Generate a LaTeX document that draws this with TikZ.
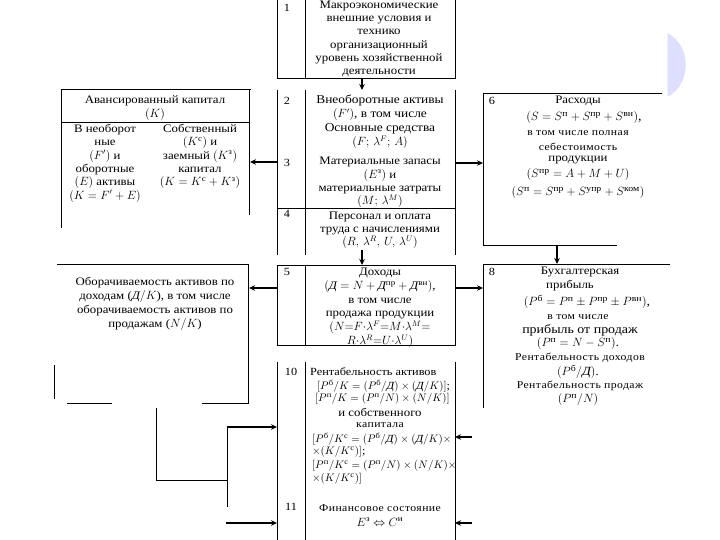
\documentclass[tikz,border=0pt]{standalone}
\usepackage{fontspec}
\usepackage{amsmath}
\setmainfont{Liberation Serif}[FakeStretch=1.12]
\usetikzlibrary{arrows.meta}
\newcommand{\tx}[1]{\text{#1}}
\newcommand{\Dd}{\text{\itshape Д}}
\begin{document}
\begin{tikzpicture}[x=1bp,y=-1bp,
  ln/.style={line width=0.8bp},
  arr/.style={line width=1.4bp,-{Stealth[length=6bp,width=5.5bp]}},
  tb/.style={inner sep=0pt,align=center,font=\fontsize{11.5}{13.4}\selectfont},
  sm/.style={inner sep=0pt,align=center,font=\fontsize{10.5}{13}\selectfont\addfontfeature{LetterSpace=4}},
  fm/.style={inner sep=0pt,align=center,font=\fontsize{10.9}{13}\selectfont},
  num/.style={inner sep=0pt,font=\fontsize{11}{13}\selectfont}]
\useasboundingbox (0,0) rectangle (720,540);
\fill[white] (0,0) rectangle (720,540);
% slide decoration
\fill[blue!13!white] (667,33) .. controls (692,45) and (692,85) .. (667,97) -- cycle;
\draw[blue!5!white,line width=1bp] (667,33) -- (667,97);

% ---- centre column frames
\draw[ln] (277,0) -- (277,78) -- (455,78) -- (455,0);
\draw[ln] (305,0) -- (305,78);
\draw[ln] (277,90) -- (277,255);
\draw[ln] (305,90) -- (305,255);
\draw[ln] (455,90) -- (455,255);
\draw[ln] (277,208) -- (455,208);
\draw[ln] (277,265) rectangle (455,345);
\draw[ln] (305,265) -- (305,345);
\draw[ln] (277,362) -- (277,540);
\draw[ln] (305,362) -- (305,540);
\draw[ln] (455,362) -- (455,540);

% ---- left frames
\draw[ln] (61,228) -- (61,89) -- (251,89);
\draw[ln] (249,89) -- (249,215);
\draw[ln] (61,122) -- (249,122);
\draw[ln] (57,264) -- (248,264) -- (248,403) -- (202,403);
\draw[ln] (67,403) -- (112,403);
\draw[ln] (54,365) -- (54,399);
\draw[ln] (156,408) -- (156,480) -- (227,480);
\draw[ln] (227,427) -- (227,507);

% ---- right frames
\draw[ln] (662,93) -- (483,93) -- (483,245) -- (617,245);
\draw[ln] (670,264) -- (483,264) -- (483,408);

% ---- connector end points
\coordinate (b1s) at (362,78);   \coordinate (b2n) at (362,90);
\coordinate (b3w) at (277,162);  \coordinate (lk) at (250,162);
\coordinate (b3e) at (455,163);  \coordinate (b6w) at (483,163);
\coordinate (b6s) at (557,245);  \coordinate (b8n) at (557,264);
\coordinate (b4s) at (362,250);  \coordinate (b5n) at (362,265);
\coordinate (b5w) at (277,288);  \coordinate (lo) at (249,288);
\coordinate (b5e) at (455,288);  \coordinate (b8w) at (483,288);
\coordinate (la) at (227,427);   \coordinate (b10w) at (277,427);
\coordinate (lb) at (226,523);   \coordinate (b11w) at (277,523);
\coordinate (ra) at (472,437);   \coordinate (b10e) at (455,437);
\coordinate (rb) at (472,523);   \coordinate (b11e) at (455,523);

\draw[arr] (b1s) -- (b2n);
\draw[arr] (b3w) -- (lk);
\draw[arr] (b3e) -- (b6w);
\draw[arr] (b6s) -- (b8n);
\draw[arr] (b4s) -- (b5n);
\draw[arr] (b5w) -- (lo);
\draw[arr] (b5e) -- (b8w);
\draw[arr] (la) -- (b10w);
\draw[arr] (lb) -- (b11w);
\draw[arr] (ra) -- (b10e);
\draw[arr] (rb) -- (b11e);

% ---- numbers
\node[num] (n1) at (287,8) {1};
\node[num] (n2) at (287,101) {2};
\node[num] (n3) at (287,163) {3};
\node[num] (n4) at (287,214) {4};
\node[num] (n5) at (287,272) {5};
\node[num] (n10) at (291,372) {10};
\node[num] (n11) at (291,507) {11};
\node[num] (n6) at (492,101) {6};
\node[num] (n8) at (492,272) {8};

% ---- box 1
\node[tb,anchor=north,font=\fontsize{11.5}{13.2}\selectfont] (t1) at (379,1) {Макроэкономические\\внешние условия и\\технико\\организационный\\уровень хозяйственной\\деятельности};
% ---- box 2,3,4
\node[tb,anchor=north,font=\fontsize{12}{14}\selectfont] (t2) at (380,95) {Внеоборотные активы\\$(F')$, в том числе\\Основные средства\\$(F;\,\lambda^F;\,A)$};
\node[tb,anchor=north] (t3) at (380,157) {Материальные запасы\\$(E^{\tx{з}})$ и\\материальные затраты\\$(M;\,\lambda^M)$};
\node[tb,anchor=north,font=\fontsize{11.5}{13}\selectfont] (t4) at (380,212) {Персонал и оплата\\труда с начислениями\\$(R,\,\lambda^R,\,U,\,\lambda^U)$};
% ---- box 5
\node[tb,anchor=north,font=\fontsize{11.5}{13.8}\selectfont] (t5) at (380,268) {Доходы\\$(\Dd = N + \Dd^{\tx{пр}} + \Dd^{\tx{вн}})$,\\в том числе\\продажа продукции\\$(N{=}F{\cdot}\lambda^F{=}M{\cdot}\lambda^M{=}$\\$R{\cdot}\lambda^R{=}U{\cdot}\lambda^U)$};
% ---- box 10
\node[tb,anchor=west,font=\fontsize{11}{13}\selectfont] (t10a) at (310,372) {Рентабельность активов};
\node[fm,anchor=west] (t10b) at (317,386) {$[P^{\tx{б}}/K=(P^{\tx{б}}/\Dd)\times(\Dd/K)]$;};
\node[fm,anchor=west] (t10c) at (315,399) {$[P^{\tx{п}}/K=(P^{\tx{п}}/N)\times(N/K)]$};
\node[tb] (t10d) at (380,412) {и собственного};
\node[sm] (t10e) at (380,425) {капитала};
\node[fm,anchor=west] (t10f) at (312,439) {$[P^{\tx{б}}/K^{\tx{с}}=(P^{\tx{б}}/\Dd)\times(\Dd/K)\times$};
\node[fm,anchor=west] (t10g) at (312,452) {$\times(K/K^{\tx{с}})]$;};
\node[fm,anchor=west] (t10h) at (312,466) {$[P^{\tx{п}}/K^{\tx{с}}=(P^{\tx{п}}/N)\times(N/K)\times$};
\node[fm,anchor=west] (t10i) at (312,479) {$\times(K/K^{\tx{с}})]$};
% ---- box 11
\node[sm] (t11a) at (380,508) {Финансовое состояние};
\node[tb] (t11b) at (380,522) {$E^{\tx{з}}\Leftrightarrow C^{\tx{и}}$};

% ---- left box 1
\node[tb] (l1a) at (155,101) {Авансированный капитал};
\node[tb] (l1b) at (155,115) {$(K)$};
\node[tb,anchor=north] (l1c) at (105,124) {В необорот\\ные\\$(F')$ и\\оборотные\\$(E)$ активы\\$(K = F' + E)$};
\node[tb,anchor=north] (l1d) at (200,124) {Собственный\\$(K^{\tx{с}})$ и\\заемный $(K^{\tx{з}})$\\капитал\\$(K = K^{\tx{с}} + K^{\tx{з}})$};
% ---- left box 2
\node[tb,anchor=north,font=\fontsize{11.5}{14}\selectfont] (l2) at (155,277) {Оборачиваемость активов по\\доходам ($\Dd/K$), в том числе\\оборачиваемость активов по\\продажам ($N/K$)};

% ---- box 6
\node[tb] (r6a) at (578,101) {Расходы};
\node[tb,font=\fontsize{12.5}{14}\selectfont] (r6b) at (584,118) {$(S = S^{\tx{п}} + S^{\tx{пр}} + S^{\tx{вн}})$,};
\node[sm] (r6c) at (578,133) {в том числе полная};
\node[sm] (r6d) at (578,147) {себестоимость};
\node[tb] (r6e) at (578,160) {продукции};
\node[tb,font=\fontsize{12.5}{14}\selectfont] (r6f) at (578,175) {$(S^{\tx{пр}} = A + M + U)$};
\node[tb,font=\fontsize{12.5}{14}\selectfont] (r6g) at (578,193) {$(S^{\tx{п}} = S^{\tx{пр}} + S^{\tx{упр}} + S^{\tx{ком}})$};

% ---- box 8
\node[tb] (r8a) at (580,272) {Бухгалтерская};
\node[tb] (r8b) at (570,286) {прибыль};
\node[tb,font=\fontsize{12.5}{14}\selectfont] (r8c) at (587,302) {$(P^{\tx{б}} = P^{\tx{п}} \pm P^{\tx{пр}} \pm P^{\tx{вн}})$,};
\node[sm] (r8d) at (578,317) {в том числе};
\node[tb,font=\fontsize{12.5}{14}\selectfont] (r8e) at (580,330) {прибыль от продаж};
\node[tb,font=\fontsize{12.5}{14}\selectfont] (r8f) at (578,344) {$(P^{\tx{п}} = N - S^{\tx{п}})$.};
\node[sm] (r8g) at (580,358) {Рентабельность доходов};
\node[tb,font=\fontsize{12.5}{14}\selectfont] (r8h) at (578,372) {$(P^{\tx{б}}/\Dd)$.};
\node[sm] (r8i) at (580,386) {Рентабельность продаж};
\node[tb,font=\fontsize{12.5}{14}\selectfont] (r8j) at (578,400) {$(P^{\tx{п}}/N)$};
\end{tikzpicture}
\end{document}
